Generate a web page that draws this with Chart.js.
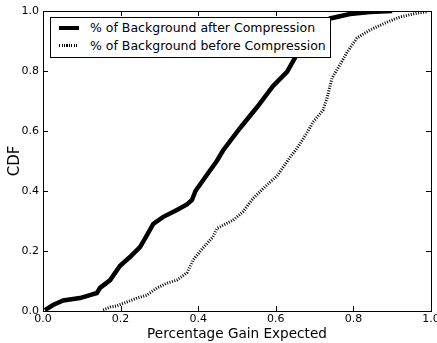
<!DOCTYPE html>
<html>
<head>
<meta charset="UTF-8">
<title>CDF of percentage gain</title>
<script src="https://cdn.jsdelivr.net/npm/chart.js@4.4.0/dist/chart.umd.min.js"></script>
<style>
  html, body { margin: 0; padding: 0; background: #fff; }
  #wrap { position: relative; width: 437px; height: 343px; }
  #legend {
    position: absolute; left: 50px; top: 17px; width: 279px; height: 39px;
    background: #fff; border: 1px solid #000;
    font-family: "DejaVu Sans", sans-serif; font-size: 12.5px; color: #000;
  }
  .row { position: absolute; left: 0; height: 18px; line-height: 18px; white-space: nowrap; }
  .sample { position: absolute; left: 8px; width: 20px; }
  .solid { top: 7px; height: 4px; background: #000; }
  .dots { top: 7px; height: 3px; background: repeating-linear-gradient(90deg, #000 0 1px, transparent 1px 2.5px); }
  .lbl { position: absolute; left: 39px; top: 0; }
</style>
</head>
<body>
<div id="wrap">
  <canvas id="cdf" width="437" height="343"></canvas>
  <div id="legend">
    <div class="row" style="top:1px"><span class="sample solid"></span><span class="lbl">% of Background after Compression</span></div>
    <div class="row" style="top:19px"><span class="sample dots"></span><span class="lbl">% of Background before Compression</span></div>
  </div>
</div>
<script>
// values
var afterX  = [0.005, 0.026, 0.052, 0.095, 0.121, 0.139, 0.147, 0.173, 0.198, 0.224, 0.25, 0.268, 0.284, 0.309, 0.345, 0.371, 0.384, 0.393, 0.423, 0.448, 0.464, 0.508, 0.552, 0.593, 0.629, 0.649, 0.662, 0.688, 0.74, 0.791, 0.843, 0.9];
var afterY  = [0.003, 0.02, 0.035, 0.043, 0.053, 0.06, 0.077, 0.103, 0.15, 0.18, 0.213, 0.253, 0.29, 0.313, 0.337, 0.355, 0.37, 0.40, 0.455, 0.50, 0.535, 0.61, 0.68, 0.75, 0.797, 0.843, 0.9, 0.94, 0.975, 0.99, 0.997, 1.0];
var beforeX = [0.155, 0.173, 0.19, 0.216, 0.242, 0.268, 0.294, 0.32, 0.345, 0.371, 0.387, 0.412, 0.438, 0.448, 0.49, 0.515, 0.541, 0.577, 0.603, 0.637, 0.655, 0.68, 0.696, 0.722, 0.732, 0.745, 0.765, 0.784, 0.809, 0.843, 0.887, 0.92, 0.964, 0.99];
var beforeY = [0.003, 0.013, 0.017, 0.03, 0.043, 0.053, 0.077, 0.093, 0.103, 0.127, 0.17, 0.21, 0.247, 0.275, 0.303, 0.33, 0.375, 0.42, 0.45, 0.513, 0.543, 0.593, 0.63, 0.67, 0.71, 0.777, 0.82, 0.863, 0.91, 0.937, 0.963, 0.98, 0.993, 0.997];
var tickVals = [0, 0.2, 0.4, 0.6, 0.8, 1.0];

function pairs(xs, ys) {
  return xs.map(function (x, i) { return { x: x, y: ys[i] }; });
}

// frame + inward ticks on all four sides, like the original plot
var framePlugin = {
  id: 'frame',
  afterDatasetsDraw: function (chart) {
    var c = chart.ctx, a = chart.chartArea;
    var sx = chart.scales.x, sy = chart.scales.y;
    c.save();
    c.strokeStyle = '#000';
    c.lineWidth = 1;
    c.beginPath();
    tickVals.forEach(function (v) {
      var px = Math.round(sx.getPixelForValue(v)) + 0.5;
      c.moveTo(px, a.bottom); c.lineTo(px, a.bottom - 5);
      c.moveTo(px, a.top); c.lineTo(px, a.top + 5);
      var py = Math.round(sy.getPixelForValue(v)) + 0.5;
      c.moveTo(a.left, py); c.lineTo(a.left + 5, py);
      c.moveTo(a.right, py); c.lineTo(a.right - 5, py);
    });
    c.stroke();
    c.strokeRect(a.left + 0.5, a.top + 0.5, a.right - a.left, a.bottom - a.top);
    c.restore();
  }
};

var font = { family: '"DejaVu Sans", sans-serif', size: 11 };
var titleFont = { family: '"DejaVu Sans", sans-serif', size: 13.6 };

new Chart(document.getElementById('cdf'), {
  type: 'scatter',
  data: {
    datasets: [{
      label: '% of Background after Compression',
      data: pairs(afterX, afterY),
      showLine: true,
      borderColor: '#000',
      borderWidth: 4.5,
      pointRadius: 0,
      tension: 0
    }, {
      label: '% of Background before Compression',
      data: pairs(beforeX, beforeY),
      showLine: true,
      borderColor: '#000',
      borderWidth: 3,
      borderDash: [1, 1.5],
      pointRadius: 0,
      tension: 0
    }]
  },
  options: {
    responsive: false,
    animation: false,
    layout: { padding: { top: 11, right: 6, left: 0, bottom: 0 } },
    plugins: { legend: { display: false }, tooltip: { enabled: false } },
    scales: {
      x: {
        type: 'linear', min: 0, max: 1,
        grid: { display: false, drawTicks: false },
        border: { display: false },
        ticks: {
          stepSize: 0.2, color: '#000', font: font, padding: 2,
          callback: function (v) { return v.toFixed(1); }
        },
        title: { display: true, text: 'Percentage Gain Expected', color: '#000',
                 font: titleFont, padding: 0 },
        afterFit: function (s) { s.height = 32; s.paddingRight = 0; s.paddingLeft = 0; }
      },
      y: {
        type: 'linear', min: 0, max: 1,
        grid: { display: false, drawTicks: false },
        border: { display: false },
        ticks: {
          stepSize: 0.2, color: '#000', font: font, padding: 4,
          callback: function (v) { return v.toFixed(1); }
        },
        title: { display: true, text: 'CDF', color: '#000',
                 font: { family: '"DejaVu Sans", sans-serif', size: 15 }, padding: { top: 6, bottom: 0 } },
        afterFit: function (s) { s.width = 43; s.paddingTop = 0; s.paddingBottom = 0; }
      }
    }
  },
  plugins: [framePlugin]
});
</script>
</body>
</html>
